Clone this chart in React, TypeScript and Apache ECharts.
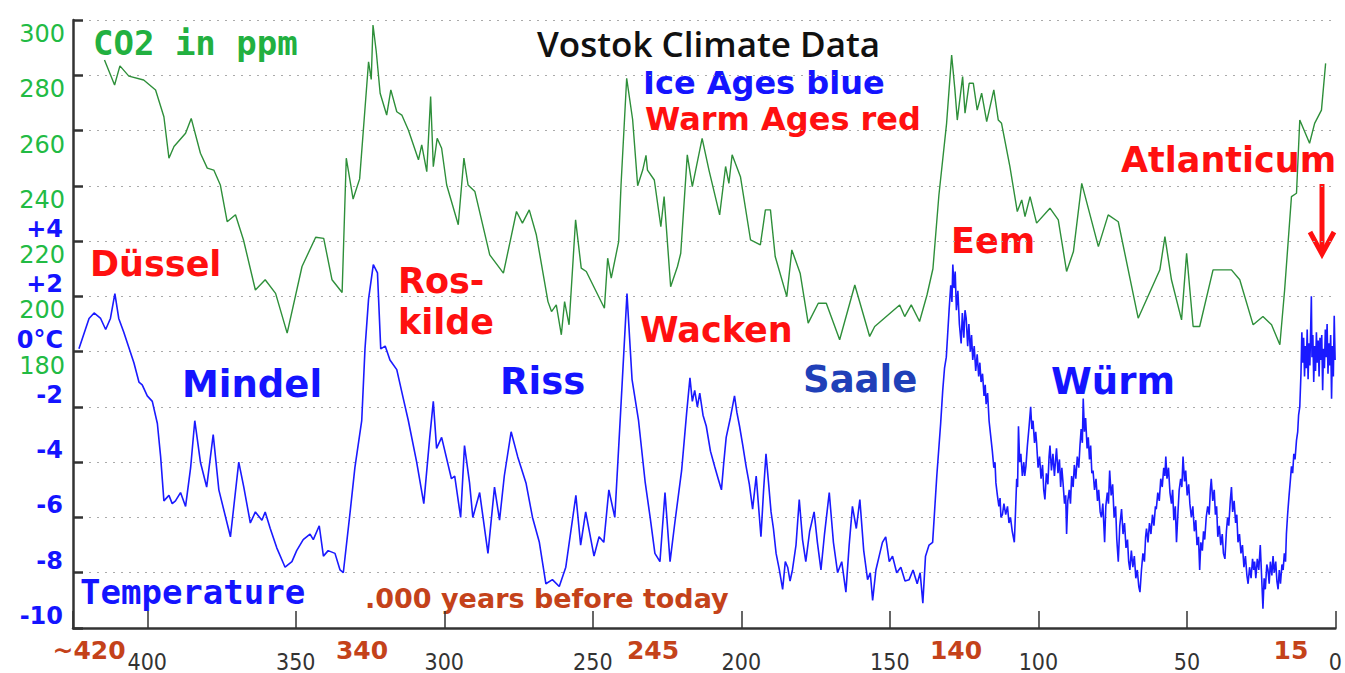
import React, { useEffect, useRef } from "react";
import * as echarts from "echarts";

// ---- Data (ages in thousand years before today) ----
const co2Age = [
  414.4, 411.0, 409.2, 406.2, 401.2, 397.2, 394.4, 392.7, 391.0, 387.1, 385.2, 382.1, 379.8, 377.6,
  375.4, 373.1, 370.3, 367.6, 363.6, 360.3, 356.8, 352.9, 347.9, 343.3, 340.6, 337.8, 334.4, 333.0,
  330.7, 328.5, 325.5, 324.6, 324.0, 322.9, 321.6, 319.4, 318.0, 316.0, 314.3, 312.1, 308.7, 307.6,
  305.9, 304.6, 303.7, 302.4, 300.9, 299.2, 295.3, 293.4, 292.0, 289.7, 284.7, 280.1, 275.7, 273.7,
  271.4, 269.0, 265.1, 263.9, 262.3, 260.6, 259.5, 258.0, 255.8, 253.9, 252.2, 250.0, 246.1, 245.0,
  243.8, 241.3, 240.5, 238.6, 236.6, 234.9, 233.2, 232.1, 231.6, 229.3, 227.1, 226.0, 223.8, 221.5,
  220.4, 218.2, 216.5, 213.2, 210.9, 207.3, 205.3, 204.2, 203.1, 200.3, 196.9, 193.6, 191.9, 190.2,
  188.6, 184.7, 183.0, 180.2, 177.5, 174.1, 171.4, 166.9, 161.8, 156.8, 155.1, 146.7, 145.0, 142.8,
  140.0, 137.5, 135.5, 133.5, 130.9, 129.2, 128.1, 127.3, 125.5, 124.7, 123.3, 121.9, 120.6, 119.1,
  117.4, 115.0, 113.5, 112.4, 109.6, 107.1, 105.6, 104.5, 102.8, 100.6, 96.1, 93.3, 90.5, 88.2,
  85.4, 79.8, 76.5, 73.1, 66.4, 59.1, 57.4, 55.2, 51.8, 50.1, 47.9, 45.7, 41.2, 35.0, 32.2, 27.7,
  24.4, 21.5, 18.7, 17.1, 14.8, 13.1, 12.0, 8.7, 7.0, 4.7, 3.3,
];
const co2Ppm = [
  285.5, 276.5, 283.4, 279.7, 278.3, 274.7, 265.0, 250.0, 254.2, 259.0, 264.4, 251.8, 246.4, 245.7,
  240.3, 227.0, 229.5, 220.4, 202.3, 206.0, 201.1, 186.7, 210.8, 221.4, 221.0, 206.0, 201.4, 250.0,
  235.2, 242.5, 284.9, 278.5, 298.2, 288.5, 273.5, 265.6, 274.7, 266.8, 265.6, 260.2, 249.4, 254.8,
  245.1, 272.3, 246.9, 257.2, 253.6, 240.3, 225.9, 250.0, 240.3, 237.9, 215.0, 208.4, 230.7, 226.5,
  231.3, 222.2, 198.1, 194.5, 196.9, 186.1, 198.1, 189.7, 227.7, 210.2, 209.0, 204.2, 195.7, 213.8,
  206.6, 219.8, 240.3, 278.9, 264.0, 240.0, 245.7, 251.0, 245.7, 242.1, 225.2, 236.1, 203.5, 210.8,
  215.6, 251.2, 239.7, 257.2, 245.7, 229.5, 247.0, 240.9, 251.2, 243.3, 220.4, 218.6, 231.3, 231.3,
  214.4, 199.9, 216.8, 208.4, 190.3, 197.5, 197.5, 184.3, 204.1, 185.5, 189.1, 196.9, 192.7, 196.9,
  190.9, 200.5, 210.0, 236.5, 262.6, 287.3, 274.7, 263.8, 279.5, 266.3, 277.1, 277.1, 267.4, 273.5,
  263.2, 274.7, 263.8, 262.6, 247.0, 230.7, 234.9, 228.9, 236.1, 226.5, 231.9, 227.7, 209.0, 216.2,
  240.9, 218.0, 229.5, 227.0, 192.1, 209.6, 221.6, 206.0, 191.5, 215.6, 189.1, 189.1, 209.6, 209.6, 206.0, 189.7,
  192.7, 189.7, 182.5, 202.3, 236.1, 237.3, 263.8, 255.4, 262.6, 267.4, 284.3,
];

// Temperature difference from today (°C), oldest to youngest
const tempAge = [
  423.0, 419.6, 417.9, 415.7, 414.0, 412.4, 410.9, 409.6, 407.9, 404.5, 402.8, 401.7, 400.0, 398.3,
  396.6, 395.5, 394.4, 392.7, 391.6, 390.5, 388.8, 387.1, 385.4, 384.0, 382.1, 380.0, 377.8, 375.9,
  372.0, 369.2, 367.5, 365.3, 363.6, 361.4, 360.3, 358.6, 356.4, 353.6, 351.3, 349.7, 347.5, 345.2,
  344.1, 342.1, 340.7, 339.1, 336.8, 335.1, 334.0, 331.7, 330.1, 327.8, 326.7, 325.5, 323.9, 322.5,
  321.4, 319.9, 318.3, 316.0, 313.8, 312.1, 309.3, 306.9, 304.9, 303.7, 302.6, 300.9, 297.6, 296.5,
  294.5, 293.2, 291.5, 290.4, 288.1, 285.3, 283.1, 281.4, 279.8, 277.5, 275.3, 272.5, 270.3, 268.0,
  265.8, 263.6, 261.3, 259.1, 255.7, 254.1, 252.4, 249.6, 247.9, 246.3, 244.6, 242.6,
  240.6, 238.5, 236.8, 234.6, 232.4, 230.7, 229.1, 227.4, 225.7, 224.0, 222.4, 220.1, 218.4, 217.3,
  216.5, 215.7, 214.8, 214.0, 212.9, 211.8, 210.4, 209.0, 207.8, 206.7, 205.9, 205.1, 203.7,
  202.3, 201.5, 200.6, 199.5, 198.4, 197.3, 196.2, 195.0, 194.2, 193.4, 192.5, 191.7, 190.8, 190.0,
  189.2, 188.3, 187.2, 186.1, 185.2, 184.4, 183.6, 182.8, 181.6, 180.5, 179.4, 178.3, 177.0, 175.5,
  174.4, 173.2, 172.0, 170.4, 169.0, 167.6, 166.2, 164.8, 163.7, 162.6, 161.3, 160.1, 158.8, 157.5,
  156.6, 155.8, 154.7, 153.6, 152.5, 151.4, 150.2, 149.1, 147.7, 146.3, 144.9, 143.5, 142.2, 140.8,
  139.8, 138.9, 138.0, 136.8, 135.6, 134.2, 132.9,
  132.2, 131.6, 131.0, 130.5, 130.0, 129.5, 129.1, 128.8, 128.4, 128.0, 127.6, 127.1, 126.6, 126.0,
  125.6, 125.1, 124.7, 124.3, 123.8, 123.4, 122.9, 122.5, 122.1, 121.6, 121.1, 120.6, 120.1, 119.7,
  119.3, 118.8, 118.3, 117.9, 117.6, 117.1, 116.6, 116.0, 115.5, 115.0, 114.6, 114.3, 113.8, 113.3,
  112.9, 112.6, 112.1, 111.6, 111.0, 110.4, 109.9, 109.4, 108.8, 108.1, 107.7, 107.3, 107.0, 106.7,
  106.3, 105.9, 105.4, 104.9, 104.6, 104.2, 103.7, 103.2, 102.9, 102.6, 102.2, 101.8, 101.3, 100.9,
  100.6, 100.1, 99.6, 99.1, 98.6, 98.2, 97.8, 97.3, 96.8, 96.4, 96.1, 95.6, 95.1, 94.6,
  94.2, 93.9, 93.4, 92.9, 92.5, 92.1, 91.7, 91.2, 90.8, 90.5, 90.1, 89.6, 89.2, 88.8,
  88.3, 87.9, 87.4, 86.9, 86.4, 86.0, 85.6, 85.2, 84.9, 84.5, 84.1, 83.6, 83.2, 82.8,
  82.4, 82.0, 81.6, 81.1, 80.6, 80.1, 79.7, 79.2, 78.8, 78.3, 77.7, 77.3, 76.8, 76.4,
  76.0, 75.5, 75.0, 74.5, 74.0, 73.6, 73.1, 72.6, 72.0, 71.5, 71.0, 70.5, 70.0, 69.6,
  69.2, 68.7, 68.2, 67.7, 67.2, 66.7, 66.2, 65.8, 65.3, 64.8, 64.3, 63.9, 63.6, 63.1,
  62.6, 62.1, 61.6, 61.1, 60.6, 60.3, 59.8, 59.3, 58.8, 58.3, 57.8, 57.4, 57.1, 56.7,
  56.2, 55.7, 55.2, 54.8, 54.4, 53.9, 53.5, 53.0, 52.6, 52.1, 51.7, 51.3, 50.8, 50.4,
  49.9, 49.4, 49.0, 48.5, 48.0, 47.5, 47.0, 46.6, 46.1, 45.7, 45.3, 44.8, 44.4, 44.0,
  43.5, 43.0, 42.5, 42.1, 41.8, 41.3, 40.8, 40.4, 40.0, 39.6, 39.1, 38.6, 38.1, 37.7,
  37.2, 36.7, 36.3, 35.9, 35.4, 35.0, 34.6, 34.1, 33.6, 33.2, 32.8, 32.3, 31.8, 31.3,
  30.8, 30.3, 29.8, 29.4, 28.9, 28.4, 27.9, 27.5, 27.2, 26.8, 26.3, 25.8, 25.3, 24.9,
  24.4, 24.0, 23.6, 23.1, 22.7, 22.3, 21.9, 21.4, 21.0, 20.6, 20.1, 19.7, 19.3, 18.9,
  18.5, 18.0, 17.6, 17.2, 16.8, 16.5, 16.1, 15.6, 15.2, 14.8, 14.4, 14.0, 13.6, 13.1,
  12.7, 12.4, 12.0, 11.6,
  11.3, 11.0, 10.7, 10.4, 10.1, 9.8, 9.5, 9.2, 8.9, 8.6, 8.3, 8.1, 7.9, 7.6,
  7.3, 7.0, 6.7, 6.4, 6.1, 5.8, 5.5, 5.2, 4.9, 4.6, 4.3, 4.0, 3.7, 3.4,
  3.1, 2.8, 2.5, 2.2, 1.9, 1.6, 1.3, 1.0, 0.7, 0.4, 0.1,
];
const tempC = [
  0.1, 1.2, 1.4, 1.2, 0.8, 1.2, 2.1, 1.2, 0.7, -0.4, -1.1, -1.2, -1.6, -1.8,
  -2.6, -3.8, -5.4, -5.2, -5.5, -5.4, -5.1, -5.6, -4.2, -2.5, -4.0, -4.9, -3.0, -5.0,
  -6.7, -4.0, -4.9, -6.2, -5.8, -6.1, -5.8, -6.4, -7.1, -7.8, -7.6, -7.2, -6.8, -6.6,
  -6.8, -6.3, -7.4, -7.2, -7.3, -7.9, -8.0, -5.8, -4.2, -2.5, 0.1, 1.9, 3.15, 2.85,
  0.1, 0.2, -0.3, -0.65, -1.7, -2.5, -4.0, -5.5, -3.1, -1.8, -3.5, -3.1, -4.6, -4.5,
  -6.0, -3.4, -4.75, -6.0, -5.1, -7.3, -4.9, -6.1, -4.5, -2.9, -3.8, -4.75, -6.0, -6.9,
  -8.4, -8.25, -8.5, -7.8, -5.2, -7.0, -5.8, -7.4, -6.7, -6.9, -5.0, -6.0,
  -2.1, 2.1, -1.0, -2.5, -4.7, -6.0, -7.3, -7.6, -5.1, -7.6, -6.2, -4.3, -2.2, -0.95,
  -1.8, -1.4, -2.0, -1.5, -2.3, -2.7, -3.6, -4.15, -4.6, -5.0, -4.0, -3.1, -2.4,
  -1.6, -2.2, -2.7, -3.4, -4.15, -4.8, -5.7, -4.5, -5.6, -6.7, -5.0, -3.7, -4.8, -5.8,
  -6.4, -7.3, -7.9, -8.6, -7.6, -7.8, -8.3, -7.9, -7.0, -5.35, -6.8, -7.6, -6.5, -5.8,
  -6.9, -7.9, -6.6, -5.1, -6.9, -8.0, -7.6, -8.7, -7.0, -5.6, -6.4, -5.35, -7.2, -8.25,
  -8.0, -9.0, -7.9, -7.4, -6.9, -6.7, -7.6, -7.4, -8.0, -7.8, -8.3, -8.25, -7.9, -8.4,
  -8.0, -9.1, -7.4, -7.0, -6.9, -4.5, -2.6,
  -1.4, -0.6, -0.2, 0.7, 1.6, 2.4, 1.8, 3.15, 2.3, 2.9, 1.5, 2.2, 1.0, 0.3,
  1.4, 0.5, 1.5, 1.2, 0.2, 1.0, 0.0, 0.6, -0.3, 0.2, -0.7, -0.1, -0.9, -0.4,
  -1.1, -0.8, -1.6, -1.2, -1.9, -1.5, -2.5, -3.1, -3.6, -4.2, -4.0, -4.75, -5.2, -5.6,
  -5.3, -6.0, -5.9, -5.5, -5.9, -5.6, -6.2, -6.0, -6.5, -6.9, -5.8, -4.6, -4.9, -2.7,
  -4.0, -3.7, -4.5, -4.0, -4.5, -4.15, -3.4, -2.8, -2.4, -2.0, -2.8, -2.5, -3.3, -2.9,
  -3.3, -4.2, -3.8, -4.6, -4.1, -5.0, -5.35, -4.4, -4.8, -3.8, -3.4, -4.3, -3.7, -4.5,
  -3.9, -3.5, -4.4, -3.9, -4.9, -4.2, -4.75, -5.5, -5.2, -6.6, -5.4, -5.0, -5.5, -4.5,
  -4.9, -4.1, -4.6, -3.8, -4.2, -3.4, -2.8, -3.3, -1.7, -2.9, -2.4, -3.5, -3.1, -3.9,
  -3.4, -4.4, -4.3, -5.0, -4.6, -5.4, -5.0, -5.8, -6.0, -5.5, -6.9, -5.6, -5.1, -5.5,
  -4.3, -5.2, -4.8, -6.0, -5.6, -6.8, -7.6, -6.3, -5.7, -6.6, -6.2, -7.1, -6.8, -7.6,
  -7.9, -7.2, -7.8, -7.4, -8.2, -7.9, -8.5, -8.7, -7.9, -7.3, -7.6, -6.7, -6.4, -6.9,
  -6.2, -6.6, -5.9, -6.3, -5.6, -5.7, -5.1, -5.4, -4.6, -4.9, -4.2, -4.5, -3.8, -4.6,
  -4.2, -5.1, -5.5, -5.0, -6.1, -5.6, -6.9, -5.8, -5.0, -4.6, -4.9, -3.8, -4.7, -4.3,
  -5.2, -4.8, -5.5, -6.0, -5.6, -6.5, -6.1, -7.0, -6.7, -7.9, -6.9, -7.2, -6.5, -6.8,
  -6.0, -5.6, -5.9, -5.0, -4.6, -5.4, -5.0, -5.9, -5.6, -6.7, -6.3, -7.0, -6.6, -7.3,
  -7.5, -6.5, -6.0, -6.3, -5.4, -4.9, -5.8, -5.4, -6.2, -5.9, -6.9, -6.6, -7.3, -7.0,
  -7.8, -7.4, -8.1, -8.4, -7.8, -8.2, -7.5, -7.9, -7.6, -8.2, -7.5, -7.9, -7.0, -8.0,
  -9.3, -8.2, -8.6, -7.7, -7.9, -8.4, -7.6, -8.1, -7.4, -8.0, -7.6, -8.3, -8.6, -7.9,
  -8.4, -7.7, -7.9, -7.3, -7.6, -6.6, -5.9, -5.2, -4.7, -4.15, -4.4, -3.7, -3.9, -3.2,
  -2.9, -2.3, -2.0, -0.8,
  0.7, -0.4, 0.5, -0.9, 0.2, -0.6, 0.8, -1.0, 0.3, -0.5, 1.0, 2.0, -0.2, 0.6,
  -1.1, 0.2, -0.7, 0.7, -0.4, 0.4, -0.9, 0.5, -0.3, 0.6, -1.4, 0.1, -0.6, 0.8,
  -0.2, 1.0, -0.8, 0.3, -0.5, 0.6, -1.7, 0.2, -0.9, 1.3, -0.3,
];

const xTicks = [0, 50, 100, 150, 200, 250, 300, 350, 400];
const co2Range = { min: 80, max: 300, step: 20, firstLabel: 180 };
const tempRange = { min: -10, max: 12, step: 2, lastLabel: 4 };
const highlightYears = ["~420", "340", "245", "140", "15"];
const warmAges = ["Düssel", "Ros-", "kilde", "Wacken", "Eem", "Atlanticum"];
const iceAges = ["Mindel", "Riss", "Saale", "Würm"];

const SANS = "'DejaVu Sans', 'Noto Sans', sans-serif";
const MONO = "'DejaVu Sans Mono', monospace";
const RED = "#ff1010";
const BLUE = "#1414ff";
const BROWN = "#c4421a";

function txt(text: string, x: number, y: number, font: string, fill: string, align = "left") {
  return {
    type: "text",
    x,
    y,
    silent: true,
    style: { text, font, fill, textAlign: align, textVerticalAlign: "middle" },
  };
}

export default function App() {
  const ref = useRef<HTMLDivElement>(null);
  useEffect(() => {
    document.body.style.margin = "0";
    const chart = echarts.init(ref.current!, null, { renderer: "svg" });
    const co2Data = co2Age.map((a, i) => [a, co2Ppm[i]]);
    const tempData = tempAge.map((a, i) => [a, tempC[i]]);
    const yearPos = [89, 362, 653, 956, 1291];
    const warmPos = [
      [90, 264],
      [398, 281],
      [398, 322],
      [640, 330],
      [951, 241],
      [1121, 160],
    ];
    const icePos = [
      [182, 384],
      [500, 381],
      [803, 379],
      [1051, 381],
    ];
    const graphic: any[] = [
      txt("Vostok Climate Data", 537, 43, `600 35px 'Open Sans', ${SANS}`, "#111111"),
      txt("CO2 in ppm", 93, 43, `bold 34px ${MONO}`, "#22b040"),
      txt("Temperature", 80, 592, `bold 34px ${MONO}`, BLUE),
      txt(".000 years before today", 365, 598, `bold 27px ${SANS}`, BROWN),
      txt("Ice Ages blue", 643, 83, `bold 32px ${SANS}`, BLUE),
      txt("Warm Ages red", 645, 119, `bold 32px ${SANS}`, RED),
      ...warmAges.map((t, i) => txt(t, warmPos[i][0], warmPos[i][1], `bold 35px ${SANS}`, RED)),
      ...iceAges.map((t, i) =>
        txt(t, icePos[i][0], icePos[i][1], `bold 37px ${SANS}`, t === "Saale" ? "#2040b8" : BLUE)
      ),
      ...highlightYears.map((t, i) => txt(t, yearPos[i], 650, `bold 25px ${SANS}`, BROWN, "center")),
      {
        type: "polyline",
        silent: true,
        shape: { points: [[1322, 184], [1322, 252]] },
        style: { stroke: RED, lineWidth: 5 },
      },
      {
        type: "polyline",
        silent: true,
        shape: { points: [[1310, 232], [1322, 254], [1334, 232]] },
        style: { stroke: RED, lineWidth: 5, fill: "none" },
      },
    ];
    chart.setOption({
      animation: false,
      backgroundColor: "#ffffff",
      grid: { left: 73, right: 9, top: 20, bottom: 45, containLabel: false },
      xAxis: {
        type: "value",
        inverse: true,
        min: 0,
        max: 425,
        interval: 50,
        axisLine: { onZero: false, lineStyle: { color: "#333", width: 2.5 } },
        axisTick: { inside: true, length: 17, lineStyle: { color: "#333", width: 1.5 } },
        axisLabel: {
          margin: 22,
          color: "#333",
          fontSize: 23,
          fontFamily: "'Liberation Sans Narrow', 'DejaVu Sans Condensed', sans-serif",
          formatter: (v: number) => (xTicks.includes(v) ? String(v) : ""),
        },
        splitLine: { show: false },
      },
      yAxis: [
        {
          type: "value",
          position: "left",
          min: co2Range.min,
          max: co2Range.max,
          interval: co2Range.step,
          axisLine: { show: true, onZero: false, lineStyle: { color: "#333", width: 2.5 } },
          axisTick: { show: true, inside: true, length: 10, lineStyle: { color: "#333", width: 2.5 } },
          axisLabel: {
            margin: 8,
            color: "#22bb44",
            fontSize: 24,
            lineHeight: 20,
            padding: [4, 0, 0, 0],
            fontFamily: SANS,
            verticalAlign: "top",
            showMinLabel: true,
            showMaxLabel: true,
            formatter: (v: number) => (v >= co2Range.firstLabel ? String(v) : ""),
          },
          splitLine: { show: true, lineStyle: { color: "#aaaaaa", type: [2, 6], width: 1 } },
        },
        {
          type: "value",
          position: "left",
          min: tempRange.min,
          max: tempRange.max,
          interval: tempRange.step,
          axisLine: { show: false, onZero: false },
          axisTick: { show: false },
          axisLabel: {
            margin: 10,
            color: BLUE,
            fontSize: 24,
            lineHeight: 20,
            padding: [0, 0, 2, 0],
            fontWeight: "bold",
            fontFamily: SANS,
            verticalAlign: "bottom",
            showMinLabel: true,
            formatter: (v: number) =>
              v > tempRange.lastLabel ? "" : v === 0 ? "0°C" : v > 0 ? "+" + v : String(v),
          },
          splitLine: { show: false },
        },
      ],
      series: [
        {
          name: "CO2",
          type: "line",
          xAxisIndex: 0,
          yAxisIndex: 0,
          data: co2Data,
          showSymbol: false,
          lineStyle: { color: "#2e8f3a", width: 1.4 },
          silent: true,
        },
        {
          name: "Temperature",
          type: "line",
          xAxisIndex: 0,
          yAxisIndex: 1,
          data: tempData,
          showSymbol: false,
          lineStyle: { color: "#1a1aff", width: 1.6 },
          silent: true,
        },
      ],
      graphic,
    });
    return () => chart.dispose();
  }, []);
  return <div ref={ref} style={{ width: 1345, height: 673 }} />;
}
